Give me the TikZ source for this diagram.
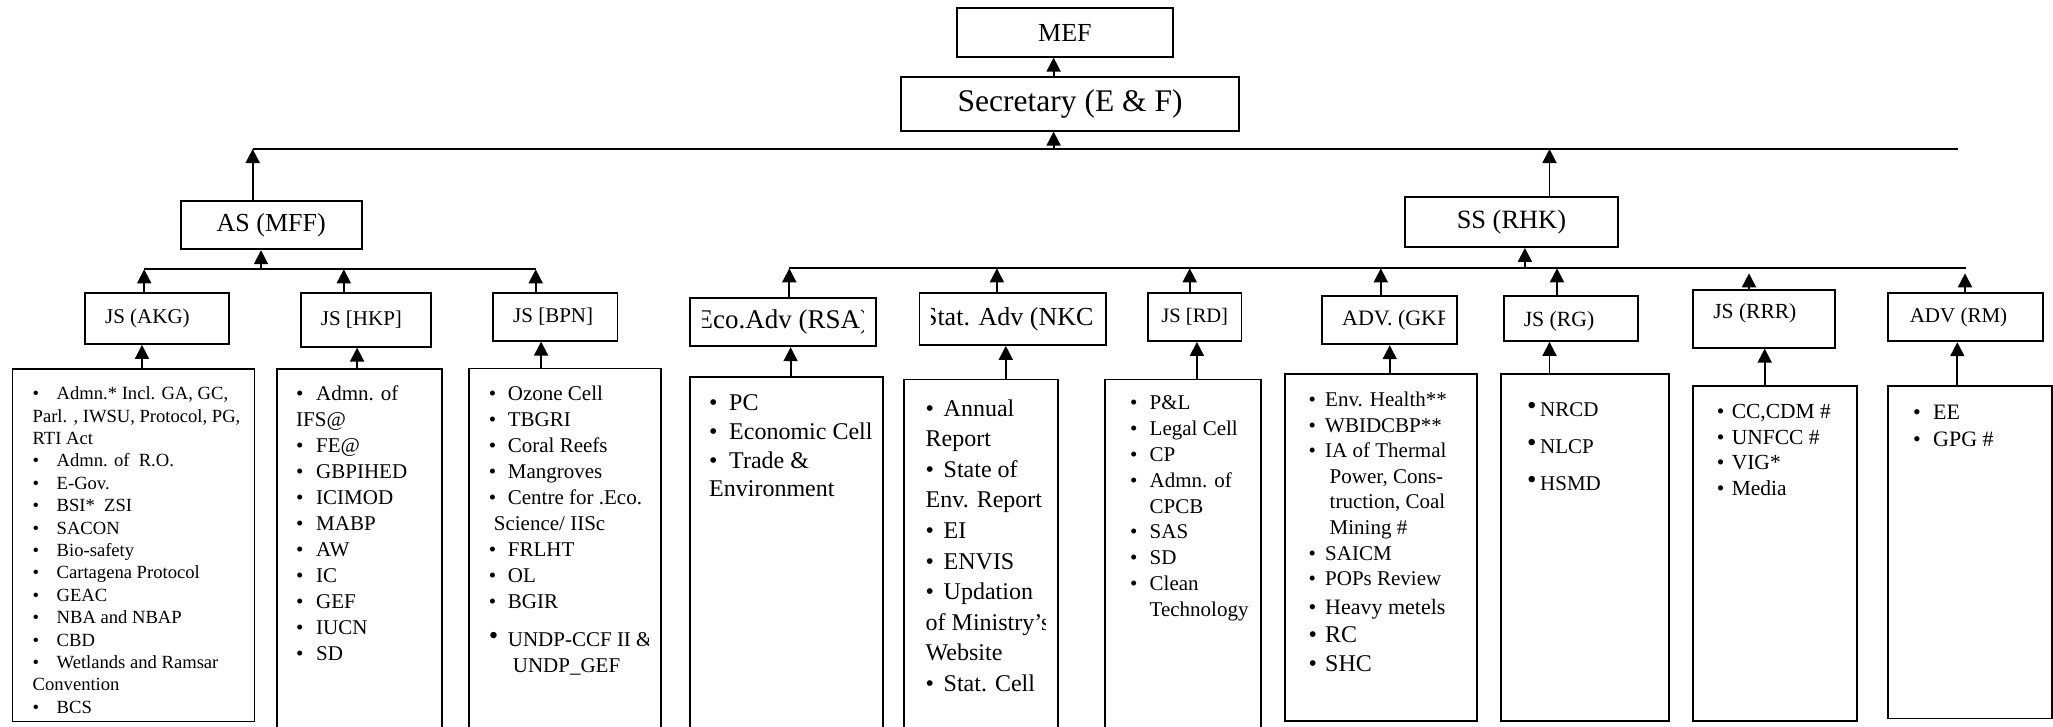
\documentclass[tikz,border=0pt]{standalone}
\usepackage{fontspec}
\setmainfont{Liberation Serif}
\usetikzlibrary{arrows.meta,fit}

\newcommand{\fs}[2]{\fontsize{#1}{#2}\selectfont}
\newcommand{\bl}[1]{\makebox[#1pt][l]{\textbullet}}
\newcommand{\bigbl}[1]{\makebox[#1pt][l]{\raisebox{2pt}{\fs{27}{27}\textbullet}}}
% box #1 spanning #2 to #3, its text (style #4, placed at #5) clipped inside it
\newcommand{\orgbox}[6]{%
  \node[frame, fit={#2 #3}] (#1) {};
  \begin{scope}
    \clip ([xshift=13pt,yshift=8pt]#1.south west) rectangle ([xshift=-13pt]#1.north east);
    \node[#4] (#1-txt) at #5 {#6};
  \end{scope}}

\begin{document}
\begin{tikzpicture}[x=1pt,y=-1pt]
    \tikzstyle{frame}=[draw,line width=1.8pt,inner sep=0pt]
    \tikzstyle{head}=[inner sep=0pt]
    \tikzstyle{list}=[anchor=north west,align=left,inner sep=0pt]
    \tikzstyle{bar}=[line width=1.8pt]
    \tikzstyle{arr}=[line width=1.8pt,-{Triangle[length=14pt,width=14pt]}]
    \useasboundingbox (0,0) rectangle (2053,726);

    % top of the tree
    \orgbox{mef}{(956.7,8.3)}{(1173.2,56.7)}{head,font=\fs{26}{26}}{(mef.center)}{MEF}
    \orgbox{sec}{(900.9,76.7)}{(1239.3,130.7)}{head,font=\fs{31.5}{32}}{(sec.center)}{Secretary (E \& F)}
    \orgbox{as}{(180.8,201)}{(361.6,249.3)}{head,font=\fs{26}{26}}{(as.center)}{AS (MFF)}
    \orgbox{ss}{(1404.7,196.7)}{(1618.1,247)}{head,font=\fs{26.4}{26}}{(ss.center)}{SS (RHK)}

    % heads
    \orgbox{H-akg}{(84.8,292.7)}{(229,344)}{head,font=\fs{21}{21}}{([xshift=-9.5pt]H-akg.center)}{JS (AKG)}
    \orgbox{H-hkp}{(301,292.7)}{(430.8,346.7)}{head,font=\fs{21}{21}}{([xshift=-4.5pt]H-hkp.center)}{JS [HKP]}
    \orgbox{H-bpn}{(492.9,292.7)}{(617.4,340.7)}{head,font=\fs{21}{21}}{([xshift=-2pt]H-bpn.center)}{JS [BPN]}
    \orgbox{H-eco}{(690,298.3)}{(875.7,346.3)}{head,font=\fs{27}{27}}{(H-eco.center)}{Eco.Adv (RSA)}
    \orgbox{H-stat}{(919.5,293.3)}{(1105.7,345)}{head,font=\fs{26}{26}}{(H-stat.center)}{Stat. Adv (NKC)}
    \orgbox{H-rd}{(1148,292.9)}{(1241.5,341)}{head,font=\fs{20.5}{21}}{(H-rd.center)}{JS [RD]}
    \orgbox{H-gkp}{(1321.9,296)}{(1456.7,344.3)}{head,anchor=west,font=\fs{22}{22}}{([xshift=21pt]H-gkp.west)}{ADV. (GKP)}
    \orgbox{H-rg}{(1503.8,296)}{(1638.3,341)}{head,font=\fs{21.7}{22}}{([xshift=-12pt,yshift=-3pt]H-rg.center)}{JS (RG)}
    \orgbox{H-rrr}{(1693,290)}{(1834.7,347.7)}{head,font=\fs{21.5}{22}}{([xshift=-9pt,yshift=5.5pt]H-rrr.center)}{JS (RRR)}
    \orgbox{H-rm}{(1888.3,293.3)}{(2042.7,341.3)}{head,font=\fs{21}{21}}{([xshift=-7pt]H-rm.center)}{ADV (RM)}

    % lists
    \orgbox{L-akg}{(12.5,369)}{(254.5,721.5)}{list,font=\fs{18.6}{22.4}}{(32.5,386.6)}{%
      \bl{24}Admn.* Incl. GA, GC,\\ Parl. , IWSU, Protocol, PG,\\ RTI Act\\
      \bl{24}Admn. of\ \ R.O.\\ \bl{24}E-Gov.\\ \bl{24}BSI*\ \ ZSI\\ \bl{24}SACON\\
      \bl{24}Bio-safety\\ \bl{24}Cartagena Protocol\\ \bl{24}GEAC\\ \bl{24}NBA and NBAP\\
      \bl{24}CBD\\ \bl{24}Wetlands and Ramsar\\ Convention\\ \bl{24}BCS}
    \orgbox{L-hkp}{(276.8,369)}{(442,740)}{list,font=\fs{21}{26}}{(296,385.7)}{%
      \bl{20}Admn. of\\ IFS@\\ \bl{20}FE@\\ \bl{20}GBPIHED\\ \bl{20}ICIMOD\\ \bl{20}MABP\\
      \bl{20}AW\\ \bl{20}IC\\ \bl{20}GEF\\ \bl{20}IUCN\\ \bl{20}SD}
    \orgbox{L-bpn}{(468.7,368.5)}{(660.7,740)}{list,font=\fs{21}{26}}{(488.7,385.7)}{%
      \bl{19}Ozone Cell\\ \bl{19}TBGRI\\ \bl{19}Coral Reefs\\ \bl{19}Mangroves\\
      \bl{19}Centre for .Eco.\\ \hspace*{5pt}Science/ IISc\\ \bl{19}FRLHT\\ \bl{19}OL\\
      \bl{19}BGIR\\[12pt] \bigbl{19}UNDP-CCF II \&\\ \hspace*{24pt}UNDP\_GEF}
    \orgbox{L-eco}{(690,376.7)}{(883.3,740)}{list,font=\fs{24}{28.7}}{(709,394.7)}{%
      \bl{20}PC\\ \bl{20}Economic Cell\\ \bl{20}Trade \&\\ Environment}
    \orgbox{L-stat}{(904.3,379.5)}{(1058,740)}{list,font=\fs{24}{30.6}}{(925.5,399.3)}{%
      \bl{18}Annual\\ Report\\ \bl{18}State of\\ Env. Report\\ \bl{18}EI\\ \bl{18}ENVIS\\
      \bl{18}Updation\\ of Ministry's\\ Website\\ \bl{18}Stat. Cell}
    \orgbox{L-rd}{(1105,379.5)}{(1261,740)}{list,font=\fs{21}{25.8}}{(1130,395.7)}{%
      \bl{19.5}P\&L\\ \bl{19.5}Legal Cell\\ \bl{19.5}CP\\ \bl{19.5}Admn. of\\
      \hspace*{19.5pt}CPCB\\ \bl{19.5}SAS\\ \bl{19.5}SD\\ \bl{19.5}Clean\\ \hspace*{19.5pt}Technology}
    \orgbox{L-gkp}{(1285,374.3)}{(1476.8,721.2)}{list,font=\fs{21}{25.6}}{(1308.5,391.7)}{%
      \bl{16.5}Env. Health**\\ \bl{16.5}WBIDCBP**\\ \bl{16.5}IA of Thermal\\
      \hspace*{21pt}Power, Cons-\\ \hspace*{21pt}truction, Coal\\ \hspace*{21pt}Mining \#\\
      \bl{16.5}SAICM\\ \bl{16.5}POPs Review\\[3pt] {\fs{22}{25.6}\bl{16.5}Heavy metels}\\[3pt]
      {\fs{24}{25.6}\bl{16.5}RC}\\[3pt] {\fs{24}{25.6}\bl{16.5}SHC}}
    \orgbox{L-rg}{(1500.8,374.3)}{(1669,721.2)}{list,font=\fs{21}{37}}{(1527,401.7)}{%
      \bigbl{13}NRCD\\ \bigbl{13}NLCP\\ \bigbl{13}HSMD}
    \orgbox{L-rrr}{(1693,386)}{(1856.6,721.2)}{list,font=\fs{21.5}{25.7}}{(1716.6,404)}{%
      \bl{15}CC,CDM \#\\ \bl{15}UNFCC \#\\ \bl{15}VIG*\\ \bl{15}Media}
    \orgbox{L-rm}{(1888,386)}{(2051.7,718.5)}{list,font=\fs{22}{27}}{(1913,404.7)}{%
      \bl{20}EE\\ \bl{20}GPG \#}

    % bars
    \coordinate (top-l) at (252.7,149);
    \coordinate (top-r) at (1957.5,149);
    \coordinate (as-l) at (144.2,269.3);
    \coordinate (as-r) at (535.7,269.3);
    \coordinate (ss-l) at (789.3,268.3);
    \coordinate (ss-r) at (1965.6,268.3);
    \draw[bar] (top-l) -- (top-r);
    \draw[bar] (as-l) -- (as-r);
    \draw[bar] (ss-l) -- (ss-r);

    % arrows
    \draw[arr] (top-l -| 1053.6,0) -- (sec.south -| 1053.6,0);
    \draw[arr] (sec.north -| 1053.6,0) -- (mef.south -| 1053.6,0);
    \draw[arr] (as.north -| top-l) -- (top-l);
    \draw[arr] (ss.north -| 1549.5,0) -- (top-l -| 1549.5,0);
    \draw[arr] (as-l -| 261,0) -- (as.south -| 261,0);
    \draw[arr] (ss-l -| 1524.9,0) -- (ss.south -| 1524.9,0);
    \foreach \n/\x in {akg/144.2, hkp/343.8, bpn/535.7}
        \draw[arr] (H-\n.north -| \x,0) -- (as-l -| \x,0);
    \foreach \n/\x in {eco/789.3, stat/996.9, rd/1189.7, gkp/1380.8, rg/1557}
        \draw[arr] (H-\n.north -| \x,0) -- (ss-l -| \x,0);
    \foreach \n/\x in {rrr/1749, rm/1965}
        \draw[arr,shorten >=5pt] (H-\n.north -| \x,0) -- (ss-l -| \x,0);
    \foreach \n/\x in {akg/142, hkp/357.1, bpn/541.1, eco/790.6, stat/1005.8, rd/1196.9,
                       gkp/1389.7, rg/1549.5, rrr/1764.7, rm/1957.3}
        \draw[arr] (L-\n.north -| \x,0) -- (H-\n.south -| \x,0);
\end{tikzpicture}
\end{document}
